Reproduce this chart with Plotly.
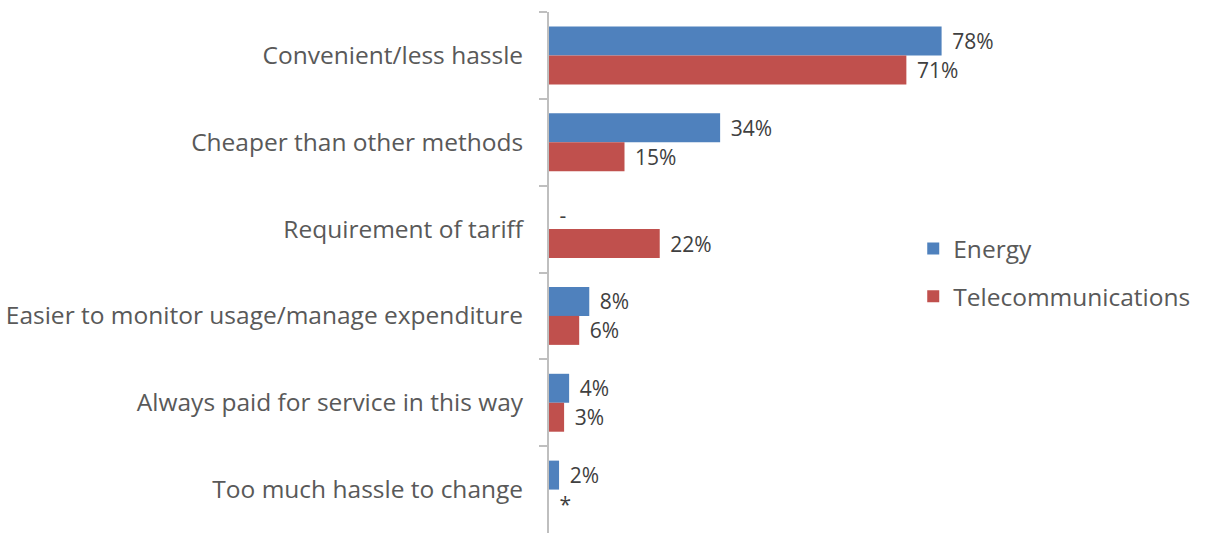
import plotly.graph_objects as go

categories = [
    "Convenient/less hassle",
    "Cheaper than other methods",
    "Requirement of tariff",
    "Easier to monitor usage/manage expenditure",
    "Always paid for service in this way",
    "Too much hassle to change",
]
energy_values = [78, 34, 0, 8, 4, 2]
telecom_values = [71, 15, 22, 6, 3, 0]
energy_labels = ["78%", "34%", "-", "8%", "4%", "2%"]
telecom_labels = ["71%", "15%", "22%", "6%", "3%", "*"]

W, H = 1221, 533
axis_left = 549
px_per_pct = 5.03
x_max = 90
axis_right = axis_left + x_max * px_per_pct

label_font = dict(family="Open Sans, Noto Sans, sans-serif", size=21, color="#404040")
pad = "\u00a0\u200a"  # small gap between bar end and its label

fig = go.Figure()
fig.add_trace(go.Bar(
    name="Energy", y=categories, x=energy_values, orientation="h",
    marker=dict(color="#4F81BD", line=dict(width=0)),
    text=[pad + t for t in energy_labels], textposition="outside", cliponaxis=False,
    textfont=label_font, legendgroup="e",
))
fig.add_trace(go.Bar(
    name="Telecommunications", y=categories, x=telecom_values, orientation="h",
    marker=dict(color="#C0504D", line=dict(width=0)),
    text=[pad + t for t in telecom_labels], textposition="outside", cliponaxis=False,
    textfont=label_font, legendgroup="t",
))

fig.update_layout(
    width=W, height=H,
    margin=dict(l=axis_left, r=W - axis_right, t=12, b=0, pad=0),
    barmode="group", bargap=0.333, bargroupgap=0,
    plot_bgcolor="white", paper_bgcolor="white",
    font=dict(family="Open Sans, Noto Sans, sans-serif", color="#595959"),
    showlegend=True,
    legend=dict(
        x=(913 - axis_left) / (axis_right - axis_left), xanchor="left",
        y=0.5, yanchor="middle",
        traceorder="grouped",
        font=dict(size=24.5, color="#595959"),
        itemwidth=30, tracegroupgap=13,
        bgcolor="rgba(0,0,0,0)",
    ),
)
fig.update_xaxes(range=[0, x_max], visible=False, showgrid=False, zeroline=False)
fig.update_yaxes(
    autorange="reversed", type="category",
    showline=True, linecolor="#BFBFBF", linewidth=2,
    ticks="outside", tickson="boundaries", ticklen=8, tickcolor="#BFBFBF", tickwidth=1.5,
    ticklabelstandoff=19,
    tickfont=dict(size=24.5, color="#595959"),
    showgrid=False, zeroline=False,
)

fig.write_html("out.html")
